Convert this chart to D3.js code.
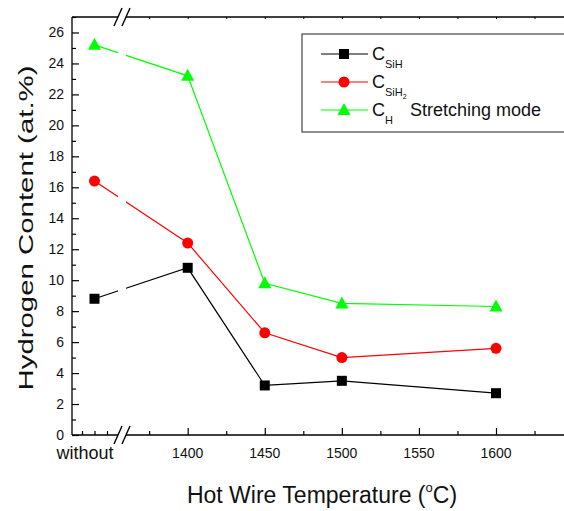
<!DOCTYPE html>
<html><head><meta charset="utf-8">
<script src="https://cdn.jsdelivr.net/npm/d3@7"></script>
<style>body{margin:0;background:#fff}svg{display:block;font-family:"Liberation Sans",Arial,sans-serif}</style>
</head><body>
<svg id="c" width="564" height="511"></svg>
<script>
const categories = ["without", 1400, 1450, 1500, 1600];
const cSiH  = [8.8, 10.8, 3.2, 3.5, 2.7];
const cSiH2 = [16.4, 12.4, 6.6, 5.0, 5.6];
const cH    = [25.2, 23.2, 9.8, 8.5, 8.3];
const yTicks = [0,2,4,6,8,10,12,14,16,18,20,22,24,26];
const xTicks = [1400,1450,1500,1550,1600];
const leftTicks = [1,2,3];

(function(){
const svg = d3.select("#c");
const pLeft = 72, pTop = 17, pBottom = 435, pRight = 566;
const brkA = 118, brkB = 126;

const y = d3.scaleLinear().domain([0,27]).range([pBottom, pTop]);
const xL = d3.scaleLinear().domain([1,3]).range([82,107]);
const xR = d3.scaleLinear().domain([1400,1600]).range([187.7,496]);
const px = (c) => c === "without" ? xL(2) : xR(c);

const series = [
  {name:"CSiH", vals:cSiH, color:"#000000", shape:"square"},
  {name:"CSiH2", vals:cSiH2, color:"#ff0000", shape:"circle"},
  {name:"CH", vals:cH, color:"#00ff00", shape:"triangle"}
];

const line = d3.line().x((d,i)=>px(categories[i])).y(d=>y(d));
function marker(g, shape, color, cx, cy){
  if(shape==="square") g.append("rect").attr("x",cx-5).attr("y",cy-5).attr("width",10).attr("height",10).attr("fill",color);
  else if(shape==="circle") g.append("circle").attr("cx",cx).attr("cy",cy).attr("r",5.5).attr("fill",color);
  else g.append("path").attr("d",`M${cx},${cy-7}L${cx+6.5},${cy+5}L${cx-6.5},${cy+5}Z`).attr("fill",color);
}

series.forEach(s=>{
  svg.append("path").datum(s.vals).attr("d",line).attr("fill","none").attr("stroke",s.color).attr("stroke-width",1.2);
});
svg.append("rect").attr("x",brkA).attr("y",pTop+1).attr("width",brkB-brkA).attr("height",pBottom-pTop-2).attr("fill","#fff");
series.forEach(s=>{
  const g = svg.append("g");
  s.vals.forEach((v,i)=>marker(g, s.shape, s.color, px(categories[i]), y(v)));
});

const ax = svg.append("g").attr("stroke","#000").attr("stroke-width",1.3).attr("fill","none");
ax.append("line").attr("x1",pLeft).attr("x2",pLeft).attr("y1",pTop).attr("y2",pBottom);
[[pLeft,brkA],[brkB,pRight]].forEach(([a,b])=>{
  ax.append("line").attr("x1",a).attr("x2",b).attr("y1",pBottom).attr("y2",pBottom);
  ax.append("line").attr("x1",a).attr("x2",b).attr("y1",pTop).attr("y2",pTop);
});
[pBottom, pTop].forEach(yy=>{
  [brkA, brkB].forEach(xx=>{
    ax.append("line").attr("x1",xx-4).attr("y1",yy+9).attr("x2",xx+4).attr("y2",yy-9).attr("stroke-width",1.4);
  });
});
const yAxisG = svg.append("g").attr("transform",`translate(${pLeft},0)`);
yAxisG.call(d3.axisRight(y).tickValues(d3.range(0,28,1)).tickSize(4).tickFormat(""))
  .call(g=>g.select(".domain").remove());
yAxisG.selectAll(".tick line").attr("x2",d=>d%2===0?7:4).attr("stroke-width",1.2);
svg.append("g").selectAll("text").data(yTicks).join("text")
  .attr("x",64).attr("y",d=>y(d)+5).attr("text-anchor","end").attr("font-size",14).attr("fill","#111").text(d=>d);

const xAxisG = svg.append("g").attr("transform",`translate(0,${pBottom})`);
xAxisG.call(d3.axisTop(xR).tickValues(d3.range(1375,1650,25)).tickSize(4).tickFormat(""))
  .call(g=>g.select(".domain").remove());
xAxisG.selectAll(".tick line").attr("y2",d=>d%50===0?-7:-4).attr("stroke-width",1.2);
const xLG = svg.append("g").attr("transform",`translate(0,${pBottom})`);
xLG.call(d3.axisTop(xL).tickValues(leftTicks).tickSize(4).tickFormat("")).call(g=>g.select(".domain").remove());
xLG.selectAll(".tick line").attr("stroke-width",1.2);
const xTopG = svg.append("g").attr("transform",`translate(0,${pTop})`);
xTopG.call(d3.axisBottom(xR).tickValues(d3.range(1375,1650,25)).tickSize(2).tickFormat("")).call(g=>g.select(".domain").remove());

svg.append("g").selectAll("text").data(xTicks).join("text")
  .attr("x",d=>xR(d)).attr("y",458).attr("text-anchor","middle").attr("font-size",14).attr("fill","#111").text(d=>d);
svg.append("text").attr("x",85).attr("y",459).attr("text-anchor","middle").attr("font-size",18).attr("fill","#111").text(categories[0]);

svg.append("text").attr("transform","translate(33,228) rotate(-90)").attr("text-anchor","middle")
  .attr("font-size",21).attr("textLength",325).attr("lengthAdjust","spacingAndGlyphs").attr("fill","#111").text("Hydrogen Content (at.%)");
const xt = svg.append("text").attr("x",322).attr("y",503).attr("text-anchor","middle").attr("font-size",23).attr("fill","#111");
xt.append("tspan").text("Hot Wire Temperature (");
xt.append("tspan").attr("font-size",13).attr("dy",-11).text("o");
xt.append("tspan").attr("dy",11).text("C)");

svg.append("rect").attr("x",302).attr("y",34).attr("width",280).attr("height",98).attr("fill","none").attr("stroke","#444").attr("stroke-width",1.2);
const rows = [54, 82, 110];
series.forEach((s,i)=>{
  const g = svg.append("g");
  g.append("line").attr("x1",321).attr("x2",368).attr("y1",rows[i]).attr("y2",rows[i]).attr("stroke",s.color).attr("stroke-width",1.2);
  marker(g, s.shape, s.color, 344, rows[i]);
  const t = g.append("text").attr("x",372).attr("y",rows[i]+6).attr("font-size",18).attr("fill","#111");
  t.append("tspan").text("C");
  if(i===0){ t.append("tspan").attr("font-size",11).attr("dy",8).text("SiH"); }
  if(i===1){ t.append("tspan").attr("font-size",11).attr("dy",8).text("SiH"); t.append("tspan").attr("font-size",7).attr("dy",3).text("2"); }
  if(i===2){ t.append("tspan").attr("font-size",11).attr("dy",8).text("H");
    t.append("tspan").attr("x",410).attr("dy",-8).text("Stretching mode"); }
});
})();
</script>
</body></html>
